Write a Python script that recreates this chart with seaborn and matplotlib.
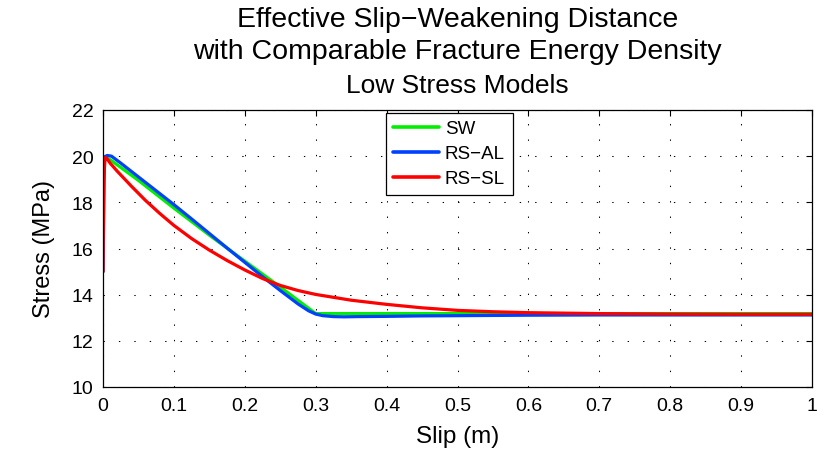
import numpy as np
import pandas as pd
import matplotlib
matplotlib.use("Agg")
import matplotlib.pyplot as plt
import seaborn as sns

# ---- data ----
sw_slip = [0.0, 0.0, 0.01, 0.05, 0.10, 0.15, 0.20, 0.25, 0.30, 0.40, 0.60, 0.80, 1.0]
sw_stress = [15.0, 20.0, 19.85, 18.95, 17.75, 16.58, 15.45, 14.33, 13.18, 13.18, 13.18, 13.18, 13.18]

rsal_slip = [0.0, 0.002, 0.006, 0.012, 0.025, 0.05, 0.075, 0.10, 0.125, 0.15, 0.175,
             0.20, 0.225, 0.25, 0.275, 0.29, 0.30, 0.31, 0.325, 0.34, 0.36, 0.40,
             0.45, 0.50, 0.60, 0.70, 0.80, 0.90, 1.0]
rsal_stress = [15.0, 19.97, 20.03, 20.0, 19.7, 19.1, 18.5, 17.9, 17.28, 16.65, 16.02,
               15.4, 14.78, 14.18, 13.6, 13.3, 13.16, 13.09, 13.05, 13.04, 13.05, 13.06,
               13.08, 13.09, 13.11, 13.12, 13.12, 13.12, 13.12]

rssl_slip = [0.0, 0.001, 0.003, 0.006, 0.01, 0.02, 0.04, 0.06, 0.08, 0.10, 0.125, 0.15,
             0.175, 0.20, 0.225, 0.25, 0.275, 0.30, 0.35, 0.40, 0.45, 0.50, 0.55, 0.60,
             0.70, 0.80, 0.90, 1.0]
rssl_stress = [15.0, 19.0, 19.95, 19.88, 19.7, 19.35, 18.7, 18.08, 17.52, 17.0, 16.43, 15.93,
               15.48, 15.07, 14.7, 14.4, 14.18, 14.01, 13.76, 13.58, 13.43, 13.32, 13.26, 13.22,
               13.18, 13.16, 13.15, 13.15]

series_names = ["SW", "RS\u2212AL", "RS\u2212SL"]
series_colors = ["#00ee00", "#0040ff", "#ff0000"]

x_ticks = [0, 0.1, 0.2, 0.3, 0.4, 0.5, 0.6, 0.7, 0.8, 0.9, 1]
x_tick_labels = ["0", "0.1", "0.2", "0.3", "0.4", "0.5", "0.6", "0.7", "0.8", "0.9", "1"]
y_ticks = [10, 12, 14, 16, 18, 20, 22]

title_lines = ["Effective Slip\u2212Weakening Distance",
               "with Comparable Fracture Energy Density"]
subtitle = "Low Stress Models"

# ---- build long table ----
frames = []
for name, xs, ys in zip(series_names, [sw_slip, rsal_slip, rssl_slip],
                        [sw_stress, rsal_stress, rssl_stress]):
    frames.append(pd.DataFrame({"Slip": xs, "Stress": ys, "Model": name}))
df = pd.concat(frames, ignore_index=True)

sns.set_style("white")
plt.rcParams["font.family"] = ["Liberation Sans", "DejaVu Sans"]
plt.rcParams["text.color"] = "black"
plt.rcParams["axes.labelcolor"] = "black"
plt.rcParams["xtick.color"] = "black"
plt.rcParams["ytick.color"] = "black"

fig = plt.figure(figsize=(8.25, 4.56), dpi=100)
ax = fig.add_axes([103 / 825, 1 - 388 / 456, 709 / 825, 277 / 456])

sns.lineplot(data=df, x="Slip", y="Stress", hue="Model",
             palette=dict(zip(series_names, series_colors)), hue_order=series_names,
             estimator=None, sort=False, linewidth=2.3, ax=ax)

ax.set_xlim(0, 1)
ax.set_ylim(10, 22)
ax.set_xticks(x_ticks)
ax.set_xticklabels(x_tick_labels)
ax.set_yticks(y_ticks)
ax.tick_params(direction="in", length=4.5, width=0.8, top=True, right=True,
               labelsize=14, colors="black", labelcolor="black", pad=7)
for s in ax.spines.values():
    s.set_visible(True)
    s.set_color("black")
    s.set_linewidth(0.9)

ax.grid(True, color="black", linestyle=(0, (1.3, 13.5)), linewidth=0.75)
ax.set_axisbelow(True)

ax.set_xlabel("Slip (m)", fontsize=17.5, labelpad=8, color="black")
ax.set_ylabel("Stress (MPa)", fontsize=17, labelpad=12, color="black")

leg = ax.legend(loc="upper left", bbox_to_anchor=(0.399, 0.99), fontsize=13.5,
                frameon=True, fancybox=False, framealpha=1, edgecolor="black",
                handlelength=2.45, handletextpad=0.3, borderpad=0.4, labelspacing=0.42,
                borderaxespad=0)
leg.get_frame().set_linewidth(0.9)
for line in leg.get_lines():
    line.set_linewidth(2.6)
for t in leg.get_texts():
    t.set_color("black")

cx = (103 + 812) / 2 / 825
fig.text(cx, 1 - 20 / 456, title_lines[0], ha="center", va="center", fontsize=20.5, color="black")
fig.text(cx, 1 - 52 / 456, title_lines[1], ha="center", va="center", fontsize=20.5, color="black")
fig.text(cx, 1 - 86 / 456, subtitle, ha="center", va="center", fontsize=19, color="black")

fig.savefig("out.png", dpi=100, facecolor="white")
